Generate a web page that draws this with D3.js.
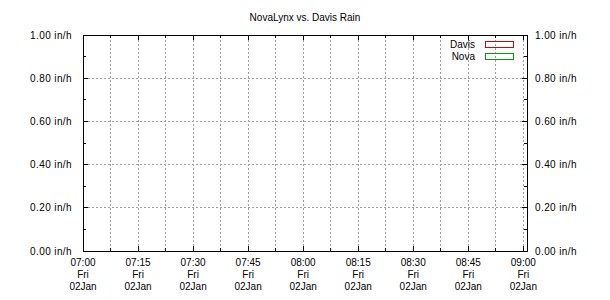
<!DOCTYPE html>
<html>
<head>
<meta charset="utf-8">
<script src="https://cdn.jsdelivr.net/npm/d3@7"></script>
<style>
  html, body { margin: 0; padding: 0; background: #fff; }
  svg { display: block; font-family: 'Liberation Sans', Arial, sans-serif; }
</style>
</head>
<body>
<div id="chart"></div>
<script>
// chart data (both series are empty in the reference)
const title = 'NovaLynx vs. Davis Rain'
const seriesNames = ['Davis', 'Nova']
const seriesColors = ['#e00000', '#00a000']
const davisRain = []   // [{ t: Date, v: in/h }]
const novaRain = []
const xStart = new Date(2015, 0, 2, 7, 0)
const xEnd = new Date(2015, 0, 2, 9, 1)
const yTicks = [0, 0.2, 0.4, 0.6, 0.8, 1.0]
const yMinorTicks = [0.1, 0.3, 0.5, 0.7, 0.9]
const dayLabel = 'Fri'
const dateLabel = '02Jan'

const width = 610
const height = 300
const plotL = 83, plotR = 527, plotT = 35, plotB = 251

const crisp = v => Math.floor(v) + 0.5

const svg = d3.select('#chart')
  .append('svg')
  .attr('width', width)
  .attr('height', height)

const x = d3.scaleTime().domain([xStart, xEnd]).range([plotL, plotR])
const y = d3.scaleLinear().domain([0, 1]).range([plotB, plotT])

// 07:00 .. 09:00 every 15 min, minor halfway between
const majorX = d3.timeMinute.every(15).range(xStart, xEnd)
const minorX = majorX
  .map(d => new Date(+d + 7.5 * 60000))
  .filter(d => d < xEnd)

// grid
const grid = svg.append('g')
  .attr('stroke', '#a0a0a0')
  .attr('stroke-width', 1)
  .attr('stroke-dasharray', '2,2')
  .attr('shape-rendering', 'crispEdges')

grid.selectAll('line.vx')
  .data(majorX.concat(minorX).filter(d => +d !== +xStart))
  .join('line')
  .attr('class', 'vx')
  .attr('x1', d => crisp(x(d)))
  .attr('x2', d => crisp(x(d)))
  .attr('y1', plotT + 1)
  .attr('y2', plotB)

grid.selectAll('line.hy')
  .data(yTicks.filter(v => v > 0 && v < 1))
  .join('line')
  .attr('class', 'hy')
  .attr('x1', plotL + 1)
  .attr('x2', plotR)
  .attr('y1', d => crisp(y(d)))
  .attr('y2', d => crisp(y(d)))

// series lines (nothing to draw, no samples)
const line = d3.line().x(d => x(d.t)).y(d => y(d.v))
svg.append('g')
  .selectAll('path')
  .data([davisRain, novaRain])
  .join('path')
  .attr('fill', 'none')
  .attr('stroke', (d, i) => seriesColors[i])
  .attr('d', d => d.length ? line(d) : null)

// ticks
const ticks = svg.append('g')
  .attr('stroke', '#000')
  .attr('stroke-width', 1)
  .attr('shape-rendering', 'crispEdges')

function xTicks(data, len) {
  data.forEach(d => {
    const px = crisp(x(d))
    ticks.append('line').attr('x1', px).attr('x2', px).attr('y1', plotB).attr('y2', plotB - len)
    ticks.append('line').attr('x1', px).attr('x2', px).attr('y1', plotT).attr('y2', plotT + len)
  })
}
function yTickMarks(data, len) {
  data.forEach(d => {
    const py = crisp(y(d))
    ticks.append('line').attr('x1', plotL).attr('x2', plotL + len).attr('y1', py).attr('y2', py)
    ticks.append('line').attr('x1', plotR).attr('x2', plotR - len).attr('y1', py).attr('y2', py)
  })
}
xTicks(majorX, 5)
xTicks(minorX, 3)
yTickMarks(yTicks, 5)
yTickMarks(yMinorTicks, 3)

// border
svg.append('rect')
  .attr('x', crisp(plotL))
  .attr('y', crisp(plotT))
  .attr('width', crisp(plotR) - crisp(plotL))
  .attr('height', crisp(plotB) - crisp(plotT))
  .attr('fill', 'none')
  .attr('stroke', '#000')
  .attr('shape-rendering', 'crispEdges')

// y labels, both sides
const fmtY = d => d3.format('.2f')(d) + ' in/h'
svg.append('g')
  .selectAll('text')
  .data(yTicks)
  .join('text')
  .attr('x', 72)
  .attr('y', d => y(d))
  .attr('dy', '0.35em')
  .attr('text-anchor', 'end')
  .attr('font-size', '10px')
  .attr('letter-spacing', '0.4px')
  .attr('fill', '#000')
  .text(fmtY)

svg.append('g')
  .selectAll('text')
  .data(yTicks)
  .join('text')
  .attr('x', 535)
  .attr('y', d => y(d))
  .attr('dy', '0.35em')
  .attr('font-size', '10px')
  .attr('letter-spacing', '0.4px')
  .attr('fill', '#000')
  .text(fmtY)

// x labels: time / day / date
const xl = svg.append('g')
  .selectAll('text')
  .data(majorX)
  .join('text')
  .attr('x', d => x(d))
  .attr('y', 266)
  .attr('text-anchor', 'middle')
  .attr('font-size', '10px')
  .attr('fill', '#000')
xl.append('tspan').attr('x', d => x(d)).text(d3.timeFormat('%H:%M'))
xl.append('tspan').attr('x', d => x(d)).attr('dy', 12).text(dayLabel)
xl.append('tspan').attr('x', d => x(d)).attr('dy', 12).text(dateLabel)

// title
svg.append('text')
  .attr('x', 305)
  .attr('y', 21)
  .attr('text-anchor', 'middle')
  .attr('font-size', '10px')
  .attr('fill', '#000')
  .text(title)

// legend
const legend = svg.append('g')
  .selectAll('g')
  .data(seriesNames)
  .join('g')
  .attr('transform', (d, i) => `translate(0,${44 + i * 12})`)

legend.append('text')
  .attr('x', 475)
  .attr('dy', '0.35em')
  .attr('text-anchor', 'end')
  .attr('font-size', '10px')
  .attr('fill', '#000')
  .text(d => d)

legend.append('rect')
  .attr('x', 485.5)
  .attr('y', -2.5)
  .attr('width', 28)
  .attr('height', 6)
  .attr('fill', 'none')
  .attr('stroke', (d, i) => seriesColors[i])
  .attr('shape-rendering', 'crispEdges')
</script>
</body>
</html>
